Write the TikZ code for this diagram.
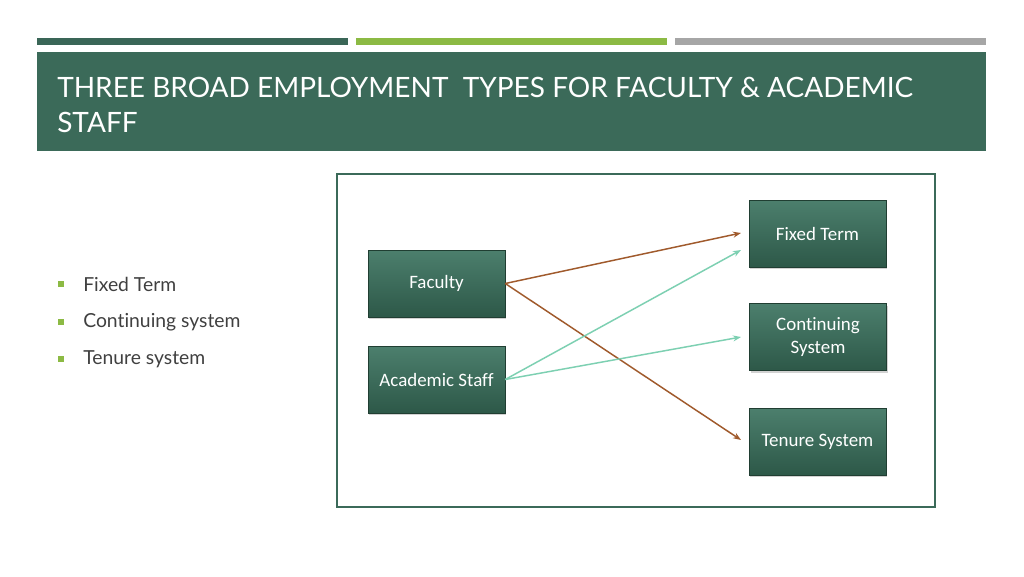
\documentclass[tikz,border=0pt]{standalone}
\usepackage{fontspec}
\setmainfont[Ligatures=NoCommon]{Carlito}
\newfontfamily\titlefont[Ligatures=NoCommon]{Lato}
\usetikzlibrary{shadows,arrows.meta}
\definecolor{banner}{HTML}{3B6A59}
\definecolor{barA}{HTML}{3A6657}
\definecolor{barB}{HTML}{8CBA44}
\definecolor{barC}{HTML}{A6A6A6}
\definecolor{boxtop}{HTML}{4C7F6D}
\definecolor{boxbot}{HTML}{2D5848}
\definecolor{brownarrow}{HTML}{A05A2C}
\definecolor{tealarrow}{HTML}{7DD0B2}
\definecolor{bullettext}{HTML}{404040}
\definecolor{bulletsq}{HTML}{8CBA44}
\tikzset{
  gbox/.style={rectangle, minimum width=102.75pt, minimum height=50.25pt, top color=boxtop, bottom color=boxbot, draw=boxbot!70!black, line width=0.3pt, text=white, font=\fontsize{14.2}{17.5}\selectfont, align=center, drop shadow={shadow xshift=1pt, shadow yshift=-1.5pt, opacity=0.35}},
  brownline/.style={draw=brownarrow, line width=1.1pt, -{Stealth[length=6pt,width=4.5pt]}},
  tealline/.style={draw=tealarrow, line width=1.1pt, -{Stealth[length=6pt,width=4.5pt]}},
  bulletitem/.style={anchor=west, text=bullettext, font=\titlefont\fontsize{14.5}{16}\selectfont, inner sep=0pt},
  bsq/.style={fill=bulletsq, minimum size=5pt, inner sep=0pt}
}
\begin{document}
\begin{tikzpicture}[x=0.75pt,y=-0.75pt]
\useasboundingbox (0,0) rectangle (1024,576);
\fill[white] (0,0) rectangle (1024,576);
% top bars
\fill[barA] (37,38) rectangle (348,45);
\fill[barB] (356,38) rectangle (667,45);
\fill[barC] (675,38) rectangle (986,45);
% banner
\fill[banner] (37,52) rectangle (986,151);
\node[anchor=base west, text=white, font=\titlefont\fontsize{21}{26}\selectfont, inner sep=0pt] (t1) at (57,97) {THREE BROAD EMPLOYMENT\ \ TYPES FOR FACULTY \& ACADEMIC};
\node[anchor=base west, text=white, font=\titlefont\fontsize{21}{26}\selectfont, inner sep=0pt] (t2) at (57,132) {STAFF};
% bullets
\node[bsq] (s1) at (61,284) {};
\node[bulletitem] (b1) at (83,284) {Fixed Term};
\node[bsq] (s2) at (61,322) {};
\node[bulletitem] (b2) at (83,322) {Continuing system};
\node[bsq] (s3) at (61,359) {};
\node[bulletitem] (b3) at (83,359) {Tenure system};
% frame
\draw[draw=banner, line width=1.3pt] (337,174) rectangle (935,507);
% boxes
\node[gbox] (fac) at (436.5,283.5) {\raisebox{-0.75pt}{Faculty}};
\node[gbox] (aca) at (436.5,379.5) {\raisebox{-0.75pt}{Academic Staff}};
\node[gbox] (fix) at (817.5,233.5) {\raisebox{-0.75pt}{Fixed Term}};
\node[gbox] (con) at (818,337) {Continuing\\System};
\node[gbox] (ten) at (817.5,441.5) {\raisebox{-0.75pt}{Tenure System}};
% arrows
\coordinate (fixA) at (741,233);
\coordinate (fixB) at (741,250);
\coordinate (conA) at (741,337);
\coordinate (tenA) at (741,440);
\draw[brownline] (fac.east) -- (fixA);
\draw[brownline] (fac.east) -- (tenA);
\draw[tealline] (aca.east) -- (fixB);
\draw[tealline] (aca.east) -- (conA);
\end{tikzpicture}
\end{document}
